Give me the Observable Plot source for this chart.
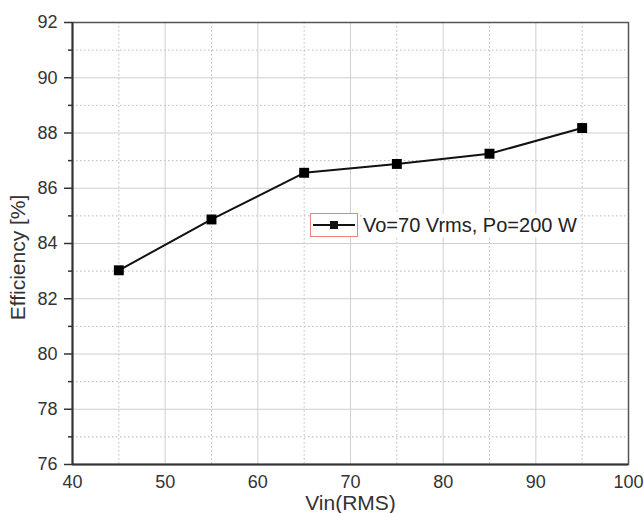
<!DOCTYPE html>
<html>
<head>
<meta charset="utf-8">
<script src="https://cdn.jsdelivr.net/npm/d3@7"></script>
<script src="https://cdn.jsdelivr.net/npm/@observablehq/plot@0.6"></script>
<style>
  html, body { margin: 0; padding: 0; background: #fff; }
  #chart { position: relative; width: 644px; height: 513px; font-family: "Liberation Sans", Arial, sans-serif; }
  #legend { position: absolute; left: 310px; top: 213px; display: flex; align-items: center; font-size: 20px; color: #222; }
  #legend .key { width: 48px; height: 24px; border: 1px solid #f08080; box-sizing: border-box; position: relative; background: #fff; }
  #legend .key::before { content: ""; position: absolute; left: 2px; right: 2px; top: 10px; height: 2px; background: #111; }
  #legend .key::after { content: ""; position: absolute; left: 19px; top: 7px; width: 8px; height: 8px; background: #111; }
  #legend span { margin-left: 5px; background: #fff; }
</style>
</head>
<body>
<div id="chart"><div id="legend"><div class="key"></div><span>Vo=70 Vrms, Po=200 W</span></div></div>
<script>
// Input voltage (RMS) and measured efficiency
const vin = [45, 55, 65, 75, 85, 95];
const efficiency = [83.03, 84.87, 86.56, 86.88, 87.25, 88.18];

const xTicks = [40, 50, 60, 70, 80, 90, 100];
const xMinor = [45, 55, 65, 75, 85, 95];
const yTicks = [76, 78, 80, 82, 84, 86, 88, 90, 92];
const yMinor = [77, 79, 81, 83, 85, 87, 89, 91];

const data = vin.map((v, i) => ({vin: v, eff: efficiency[i]}));

const chart = Plot.plot({
  width: 644,
  height: 513,
  marginLeft: 72,
  marginTop: 22,
  marginRight: 16,
  marginBottom: 49,
  style: {fontFamily: "'Liberation Sans', Arial, sans-serif", fontSize: "18px", color: "#333", background: "transparent", overflow: "visible"},
  x: {domain: [40, 100], label: null},
  y: {domain: [76, 92], label: null},
  marks: [
    // minor (dotted) grid
    Plot.ruleX(xMinor, {stroke: "#b8b8b8", strokeDasharray: "1.5,2.5", strokeWidth: 1}),
    Plot.ruleY(yMinor, {stroke: "#b8b8b8", strokeDasharray: "1.5,2.5", strokeWidth: 1}),
    // major (solid) grid
    Plot.ruleX(xTicks, {stroke: "#cfcfcf", strokeWidth: 1}),
    Plot.ruleY(yTicks, {stroke: "#cfcfcf", strokeWidth: 1}),
    // frame
    Plot.frame({stroke: "#555", strokeWidth: 1.5}),
    // axes
    Plot.axisY({ticks: yTicks, tickSize: 8, tickPadding: 7, stroke: "#333", strokeWidth: 1.5, fontSize: 18, label: null}),
    Plot.axisY({ticks: yMinor, tickSize: 4, tickFormat: () => "", stroke: "#333", strokeWidth: 1.5, label: null}),
    Plot.axisX({ticks: xTicks, tickSize: 0, tickPadding: 11, fontSize: 18, label: null}),
    Plot.ruleX([40], {stroke: "#333", strokeWidth: 2}),
    Plot.ruleY([76], {stroke: "#333", strokeWidth: 2}),
    // axis titles
    Plot.text(["Vin(RMS)"], {frameAnchor: "bottom", textAnchor: "middle", lineAnchor: "middle", dy: 39, fontSize: 21, fill: "#333"}),
    Plot.text(["Efficiency [%]"], {frameAnchor: "left", textAnchor: "middle", lineAnchor: "middle", dx: -54, dy: 14, rotate: -90, fontSize: 21, fill: "#333"}),
    // series
    Plot.line(data, {x: "vin", y: "eff", stroke: "#111", strokeWidth: 2}),
    Plot.dot(data, {x: "vin", y: "eff", symbol: "square", r: 5.6, fill: "#000", stroke: "none"})
  ]
});

document.getElementById("chart").prepend(chart);
</script>
</body>
</html>
